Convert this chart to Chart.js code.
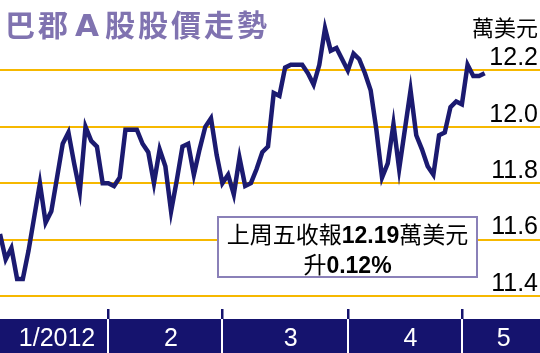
<!DOCTYPE html>
<html>
<head>
<meta charset="utf-8">
<script src="https://cdn.jsdelivr.net/npm/chart.js@4.4.1/dist/chart.umd.min.js"></script>
<style>
html,body{margin:0;padding:0;background:#fff;}
#wrap{position:relative;width:540px;height:353px;overflow:hidden;background:#fff;}
#c{position:absolute;left:0;top:0;}
#title{position:absolute;left:5px;top:3px;font-family:"Noto Sans CJK TC";font-weight:700;font-size:30px;letter-spacing:3px;color:#8073B0;line-height:40px;white-space:nowrap;}
#title .a{font-family:"DejaVu Sans";font-size:31px;margin:0 3px 0 4px;}
#unit{position:absolute;right:2px;top:11px;font-family:"Noto Sans CJK TC";font-size:22px;line-height:30px;color:#000;white-space:nowrap;}
#note{position:absolute;left:217px;top:216px;width:257px;height:58px;border:2px solid #8A80B8;background:#fff;text-align:center;font-family:"Noto Sans CJK TC";font-size:23px;line-height:30px;color:#000;white-space:nowrap;}
#note b{font-family:"Liberation Sans";font-weight:700;line-height:20px;}
</style>
</head>
<body>
<div id="wrap">
<canvas id="c" width="540" height="353"></canvas>
<div id="title">巴郡<span class="a">A</span>股股價走勢</div>
<div id="unit">萬美元</div>
<div id="note">上周五收報<b>12.19</b>萬美元<br>升<b>0.12%</b></div>
</div>
<script>
// trading days, Jan 3 - May 4, 2012
const dates = [
 '2012-01-03','2012-01-04','2012-01-05','2012-01-06','2012-01-09','2012-01-10','2012-01-11','2012-01-12','2012-01-13','2012-01-17',
 '2012-01-18','2012-01-19','2012-01-20','2012-01-23','2012-01-24','2012-01-25','2012-01-26','2012-01-27','2012-01-30','2012-01-31',
 '2012-02-01','2012-02-02','2012-02-03','2012-02-06','2012-02-07','2012-02-08','2012-02-09','2012-02-10','2012-02-13','2012-02-14',
 '2012-02-15','2012-02-16','2012-02-17','2012-02-21','2012-02-22','2012-02-23','2012-02-24','2012-02-27','2012-02-28','2012-02-29',
 '2012-03-01','2012-03-02','2012-03-05','2012-03-06','2012-03-07','2012-03-08','2012-03-09','2012-03-12','2012-03-13','2012-03-14',
 '2012-03-15','2012-03-16','2012-03-19','2012-03-20','2012-03-21','2012-03-22','2012-03-23','2012-03-26','2012-03-27','2012-03-28',
 '2012-03-29','2012-03-30','2012-04-02','2012-04-03','2012-04-04','2012-04-05','2012-04-09','2012-04-10','2012-04-11','2012-04-12',
 '2012-04-13','2012-04-16','2012-04-17','2012-04-18','2012-04-19','2012-04-20','2012-04-23','2012-04-24','2012-04-25','2012-04-26',
 '2012-04-27','2012-04-30','2012-05-01','2012-05-02','2012-05-03','2012-05-04'
];
// closing price, 10,000 USD
const prices = [
 11.62,11.53,11.57,11.46,11.46,11.56,11.68,11.80,11.66,11.70,
 11.82,11.94,11.98,11.87,11.77,12.00,11.95,11.93,11.80,11.80,
 11.79,11.82,11.99,11.99,11.99,11.94,11.91,11.80,11.92,11.86,
 11.70,11.81,11.93,11.94,11.83,11.92,12.00,12.03,11.90,11.80,
 11.83,11.76,11.89,11.79,11.80,11.85,11.91,11.93,12.12,12.11,
 12.21,12.22,12.22,12.22,12.19,12.15,12.22,12.35,12.27,12.28,
 12.24,12.20,12.26,12.24,12.19,12.13,11.99,11.82,11.87,12.01,
 11.85,11.99,12.13,11.97,11.92,11.86,11.83,11.97,11.98,12.07,
 12.09,12.08,12.22,12.18,12.18,12.19
];
const monthLabels = ['1/2012','2','3','4','5'];
const yTicks = [11.4, 11.6, 11.8, 12.0, 12.2];

const X_MAX = 94.7;
const monthOf = d => d.slice(0,7);
const monthEnds = [];   // index of last trading day in each month
const monthStarts = [0];
for (let i = 0; i < dates.length - 1; i++) {
  if (monthOf(dates[i]) !== monthOf(dates[i+1])) { monthEnds.push(i); monthStarts.push(i+1); }
}
const labelPos = monthStarts.map((s, k) => ((s + (k + 1 < monthStarts.length ? monthStarts[k+1] : X_MAX)) / 2));

const NAVY = '#15136E';
const monthBar = {
  id: 'monthBar',
  beforeDraw(chart) {
    const ctx = chart.ctx, xs = chart.scales.x;
    const top = xs.top + 9, bottom = xs.bottom;
    ctx.save();
    ctx.fillStyle = NAVY;
    ctx.fillRect(0, top, chart.width, bottom - top);
    monthEnds.forEach(v => {
      const px = Math.round(xs.getPixelForValue(v));
      ctx.fillStyle = NAVY;
      ctx.fillRect(px - 1, xs.top - 1, 2.5, top - xs.top + 1);
      ctx.fillStyle = '#fff';
      ctx.fillRect(px - 1, top, 2, bottom - top);
    });
    ctx.restore();
  }
};

new Chart(document.getElementById('c'), {
  type: 'line',
  data: {
    datasets: [{
      data: prices.map((p, i) => ({x: i, y: p})),
      borderColor: '#1B1A70',
      borderWidth: 4.5,
      pointRadius: 0,
      tension: 0,
      fill: false
    }]
  },
  options: {
    responsive: false,
    animation: false,
    layout: {padding: 0},
    plugins: {legend: {display: false}, tooltip: {enabled: false}},
    scales: {
      x: {
        type: 'linear', min: 0, max: X_MAX, position: 'bottom',
        afterBuildTicks: s => { s.ticks = labelPos.map(v => ({value: v})); },
        afterFit: s => { s.height = 43; s.paddingLeft = 0; s.paddingRight = 0; },
        grid: {display: false, drawTicks: false},
        border: {display: false},
        ticks: {
          autoSkip: false, maxRotation: 0, padding: 14, color: '#fff',
          font: {family: 'Liberation Sans', size: 25},
          callback: (v, i) => monthLabels[i]
        }
      },
      y: {
        position: 'right', min: 11.35, max: 12.45,
        afterBuildTicks: s => { s.ticks = yTicks.map(v => ({value: v})); },
        afterFit: s => { s.width = 0; s.paddingTop = 0; s.paddingBottom = 0; },
        grid: {color: '#F6B800', lineWidth: 2, drawTicks: false},
        border: {display: false},
        ticks: {
          mirror: true, padding: -2, labelOffset: -12, color: '#000',
          font: {family: 'Liberation Sans', size: 25},
          callback: v => v.toFixed(1)
        }
      }
    }
  },
  plugins: [monthBar]
});
</script>
</body>
</html>
